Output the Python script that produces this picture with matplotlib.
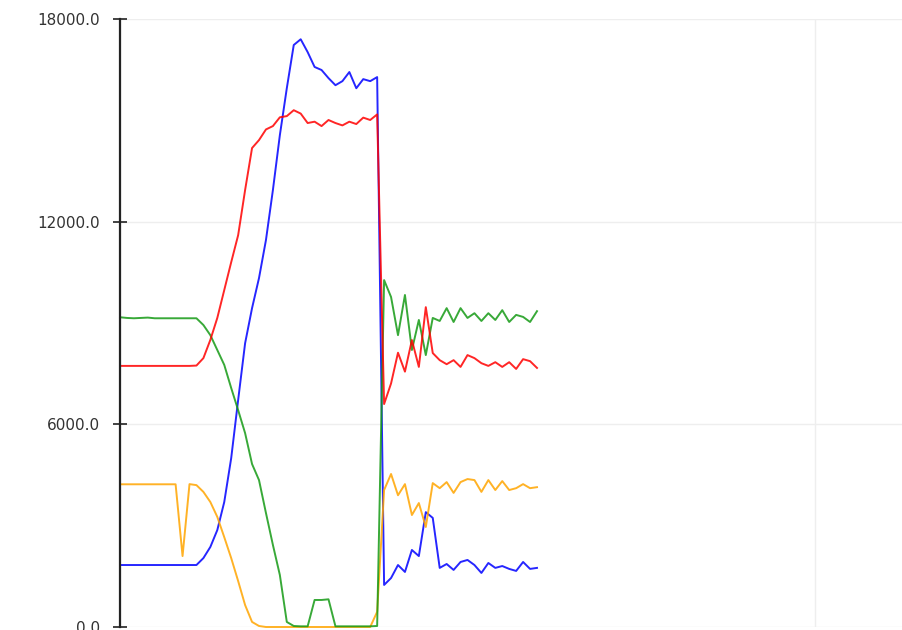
import matplotlib
matplotlib.use("Agg")
import matplotlib.pyplot as plt
import numpy as np

# values, one point per step
blue = [1835, 1835, 1835, 1835, 1835, 1835, 1835, 1835, 1835, 1835, 1835, 1835,
        2040, 2370, 2870, 3700, 5000, 6720, 8400, 9440, 10330, 11455, 12935, 14560,
        15950, 17230, 17400, 17020, 16580, 16490, 16250, 16040, 16160, 16430, 15950, 16220,
        16160, 16280,
        1245, 1450, 1835, 1630, 2280, 2100, 3400, 3230, 1750, 1865, 1690, 1925,
        1985, 1835, 1600, 1895, 1750, 1805, 1720, 1660, 1925, 1720, 1750]
red = [7730, 7730, 7730, 7730, 7730, 7730, 7730, 7730, 7730, 7730, 7730, 7740,
       7960, 8500, 9150, 9975, 10800, 11600, 12935, 14180, 14415, 14730, 14830, 15090,
       15125, 15300, 15200, 14920, 14960, 14830, 15010, 14920, 14850, 14960, 14890, 15080,
       15010, 15175,
       6600, 7210, 8120, 7560, 8495, 7700, 9470, 8110, 7900, 7780, 7900, 7700,
       8050, 7960, 7810, 7730, 7840, 7700, 7840, 7640, 7930, 7870, 7670]
green = [9170, 9150, 9140, 9150, 9160, 9140, 9140, 9140, 9140, 9140, 9140, 9140,
         8940, 8640, 8200, 7760, 7075, 6420, 5740, 4825, 4350, 3375, 2430, 1540,
         150, 30, 20, 20, 800, 800, 820, 20, 20, 20, 20, 20,
         20, 30,
         10270, 9770, 8640, 9830, 8200, 9090, 8050, 9150, 9060, 9440, 9030, 9440,
         9150, 9290, 9060, 9290, 9090, 9380, 9030, 9240, 9180, 9030, 9350]
orange = [4225, 4225, 4225, 4225, 4225, 4225, 4225, 4225, 4225, 2100, 4230, 4200,
          4000, 3700, 3260, 2660, 2040, 1360, 650, 150, 30, 0, 0, 0,
          0, 0, 0, 0, 0, 0, 0, 0, 0, 0, 0, 0,
          0, 450,
          4055, 4530, 3900, 4230, 3315, 3670, 2960, 4260, 4110, 4290, 3970, 4290,
          4380, 4350, 4000, 4350, 4055, 4320, 4055, 4110, 4230, 4110, 4140]

y_ticks = [0, 6000, 12000, 18000]
x_ticks = [0, 100]

fig = plt.figure(figsize=(9.03, 6.30), dpi=100)
ax = fig.add_axes([120 / 903, 3 / 630, 783 / 903, 608 / 630])

x = np.arange(len(blue))
ax.plot(x, blue, color="#0000ff", lw=1.4, alpha=0.85, clip_on=False)
ax.plot(x, orange, color="#ffa500", lw=1.4, alpha=0.85, clip_on=False)
ax.plot(x, green, color="#159a15", lw=1.4, alpha=0.85, clip_on=False)
ax.plot(x, red, color="#ff0000", lw=1.4, alpha=0.85, clip_on=False)

ax.set_xlim(0, 783 / 6.95)
ax.set_ylim(0, 18000)
ax.set_yticks(y_ticks)
ax.set_yticklabels(["%.1f" % v for v in y_ticks])
ax.set_xticks(x_ticks)
ax.set_xticklabels([])
ax.grid(True, color="#eeeeee", lw=1)
ax.set_axisbelow(True)

for s in ["top", "right", "bottom"]:
    ax.spines[s].set_visible(False)
ax.spines["left"].set_color("#222222")
ax.spines["left"].set_linewidth(1.6)
ax.tick_params(axis="y", direction="inout", length=10.5, width=1.2, color="#222222",
               pad=9, labelsize=11, labelcolor="#333333")
ax.tick_params(axis="x", length=0)

fig.savefig("out.png", dpi=100)
